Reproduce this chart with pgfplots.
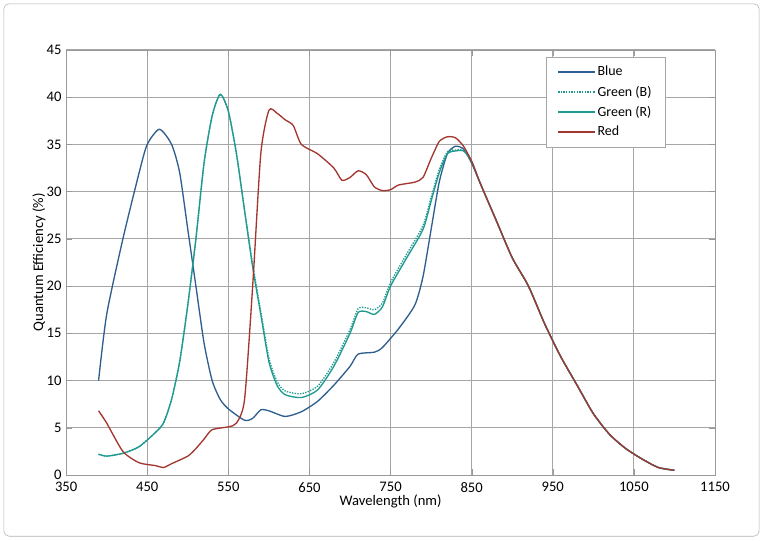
\documentclass[border=0pt]{standalone}
\usepackage{pgfplots}
\pgfplotsset{compat=1.18}
\usepackage{fontspec}
\setmainfont{Carlito}
\definecolor{cblue}{HTML}{2F5F8F}
\definecolor{cgreen}{HTML}{1E9A90}
\definecolor{cred}{HTML}{A3372F}
\begin{document}
\begin{tikzpicture}
\fill[white] (-1.75cm,-1.72cm) rectangle (18.44cm,12.57cm);
\draw[gray!60, rounded corners=4pt] (-1.65cm,-1.62cm) rectangle (18.34cm,12.47cm);
\begin{axis}[scale only axis, width=17.17cm, height=11.25cm,
 xmin=350, xmax=1150, ymin=0, ymax=45,
 xtick={350,450,...,1150}, ytick={0,5,...,45},
 grid=major, grid style={gray!70, line width=0.6pt},
 axis line style={gray!80}, tick style={gray!80},
 /pgf/number format/assume math mode=true,
 /pgf/number format/1000 sep={},
 ticklabel style={font=\fontsize{11}{12}\selectfont},
 xticklabel style={yshift=-2pt},
 label style={font=\fontsize{11}{12}\selectfont},
 xlabel={Wavelength (nm)}, ylabel={Quantum Efficiency (\%)},
 xlabel shift=-5pt, ylabel shift=-6pt,
 legend style={at={(0.923,0.984)}, anchor=north east, font=\fontsize{10.5}{12}\selectfont, draw=gray!70, cells={anchor=west}, row sep=2pt, inner xsep=8pt, inner ysep=5pt},
 legend image post style={xscale=1.6},
 legend cell align=left,
 every axis plot/.append style={line width=1pt, smooth, tension=0.4},
]
\addplot[cblue] coordinates {(390,10)(400,17)(420,25)(440,32)(450,35)(465,36.6)(480,35)(490,32)(500,26)(510,20)(520,14)(530,10)(540,8)(550,7)(570,5.8)(580,6)(590,6.9)(600,6.8)(620,6.2)(640,6.7)(660,7.8)(680,9.5)(700,11.5)(710,12.8)(730,13)(740,13.5)(760,15.5)(780,18)(790,21)(800,26)(810,31)(820,34)(830,34.8)(840,34.5)(850,33)(860,31)(880,27)(900,23)(920,20)(940,16)(960,12.5)(980,9.5)(1000,6.5)(1020,4.3)(1040,2.8)(1060,1.7)(1080,0.8)(1100,0.5)};
\addlegendentry{Blue}
\addplot[cgreen, densely dotted] coordinates {(390,2.2)(400,2)(420,2.3)(440,3)(460,4.5)(470,5.5)(480,8)(490,12)(500,18)(510,25)(520,33)(530,38)(540,40.3)(550,38.5)(560,34)(570,28)(580,22.3)(590,17.3)(600,12.4)(610,9.9)(620,8.9)(640,8.6)(660,9.4)(680,11.9)(700,15.4)(710,17.6)(720,17.7)(730,17.5)(740,18.2)(750,20.4)(770,23.4)(790,26.4)(800,29.4)(810,32.3)(820,34.2)(830,34.4)(840,34.4)(850,33.2)(860,31)(880,27)(900,23)(920,20)(940,16)(960,12.5)(980,9.5)(1000,6.5)(1020,4.3)(1040,2.8)(1060,1.7)(1080,0.8)(1100,0.5)};
\addlegendentry{Green (B)}
\addplot[cgreen] coordinates {(390,2.2)(400,2)(420,2.3)(440,3)(460,4.5)(470,5.5)(480,8)(490,12)(500,18)(510,25)(520,33)(530,38)(540,40.3)(550,38.5)(560,34)(570,28)(580,22)(590,17)(600,12)(610,9.5)(620,8.5)(640,8.2)(660,9)(680,11.5)(700,15)(710,17.2)(720,17.3)(730,17)(740,17.8)(750,20)(770,23)(790,26)(800,29)(810,32)(820,34)(830,34.3)(840,34.3)(850,33.2)(860,31)(880,27)(900,23)(920,20)(940,16)(960,12.5)(980,9.5)(1000,6.5)(1020,4.3)(1040,2.8)(1060,1.7)(1080,0.8)(1100,0.5)};
\addlegendentry{Green (R)}
\addplot[cred] coordinates {(390,6.8)(400,5.5)(420,2.5)(440,1.3)(460,1)(470,0.8)(480,1.2)(500,2)(510,2.8)(520,3.8)(530,4.8)(550,5.1)(560,5.5)(570,8)(580,20)(590,34)(600,38.6)(610,38.3)(620,37.6)(630,37)(640,35)(660,34)(680,32.5)(690,31.2)(700,31.5)(710,32.2)(720,31.8)(730,30.5)(740,30.1)(750,30.2)(760,30.7)(780,31)(790,31.5)(800,33.5)(810,35.3)(820,35.8)(830,35.7)(840,34.8)(850,33.2)(860,31)(880,27)(900,23)(920,20)(940,16)(960,12.5)(980,9.5)(1000,6.5)(1020,4.3)(1040,2.8)(1060,1.7)(1080,0.8)(1100,0.5)};
\addlegendentry{Red}
\end{axis}
\end{tikzpicture}
\end{document}
